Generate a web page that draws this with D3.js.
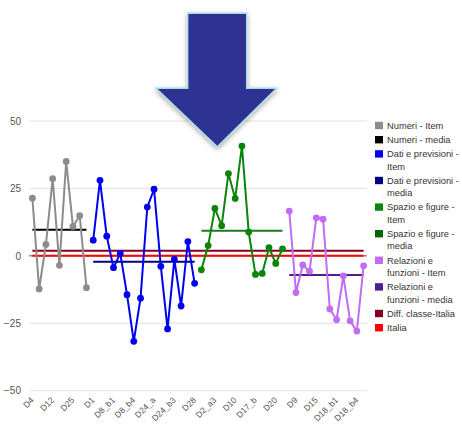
<!DOCTYPE html>
<html>
<head>
<meta charset="utf-8">
<script src="https://cdn.jsdelivr.net/npm/d3@7"></script>
<style>
  body { margin: 0; background: #fff; }
  svg { display: block; font-family: 'Liberation Sans', Arial, sans-serif; }
</style>
</head>
<body>
<svg id="chart"></svg>
<script>
// categorie (una ogni tre viene mostrata sull'asse)
const categories = [
  'D4', 'D5', 'D7_a', 'D12', 'D13', 'D19', 'D25', 'D26_a', 'D26_b',
  'D1', 'D3_a', 'D3_b', 'D8_b1', 'D8_b2', 'D8_b3', 'D8_b4', 'D11', 'D16',
  'D24_a', 'D24_b1', 'D24_b2', 'D24_b3', 'D27_a', 'D27_b', 'D28',
  'D2_a1', 'D2_a2', 'D2_a3', 'D2_b', 'D6', 'D10', 'D23', 'D17_a', 'D17_b',
  'D19_a', 'D19_b', 'D20', 'D22',
  'D7_b', 'D9', 'D13_b', 'D14_b', 'D15', 'D16_b', 'D18_a', 'D18_b1',
  'D18_b2', 'D18_b3', 'D18_b4', 'D29'
]
const yTicks = [50, 25, 0, -25, -50]

const numeriItem = [21.4, -12.3, 4.2, 28.6, -3.5, 35, 10.9, 14.9, -11.8]
const numeriMedia = 9.7
const datiItem = [5.8, 28, 7.3, -4.4, 0.9, -14.4, -31.7, -15.7, 18.1, 24.7, -3.9, -27.1, -1.3, -18.6, 5.3, -10.2]
const datiMedia = -2.2
const spazioItem = [-5.2, 3.8, 17.6, 11.2, 30.5, 21.3, 40.7, 8.8, -6.9, -6.5, 3.0, -2.8, 2.6]
const spazioMedia = 9.3
const relazioniItem = [16.6, -13.6, -3.4, -5.7, 14.1, 13.6, -19.7, -23.7, -7.4, -24.1, -27.9, -3.7]
const relazioniMedia = -7.1
const diffClasseItalia = 1.9
const italia = 0

const legendLabels = [
  ['Numeri - Item'],
  ['Numeri - media'],
  ['Dati e previsioni -', 'Item'],
  ['Dati e previsioni -', 'media'],
  ['Spazio e figure -', 'Item'],
  ['Spazio e figure -', 'media'],
  ['Relazioni e', 'funzioni - Item'],
  ['Relazioni e', 'funzioni - media'],
  ['Diff. classe-Italia'],
  ['Italia']
]
const legendColors = ['#8c8c8c', '#000000', '#0000ee', '#000080', '#0a840a',
  '#006400', '#c06cf4', '#4c1d8c', '#800020', '#ff0000']

const width = 462
const height = 430
const margin = {top: 121, right: 95, bottom: 39.3, left: 29}

const svg = d3.select('#chart')
  .attr('width', width)
  .attr('height', height)

const x = d3.scaleBand()
  .domain(categories)
  .range([margin.left, width - margin.right])
const y = d3.scaleLinear()
  .domain([-50, 50])
  .range([height - margin.bottom, margin.top])
const cx = c => x(c) + x.bandwidth() / 2

// griglia
svg.append('g').selectAll('line').data(yTicks)
  .enter().append('line')
    .attr('x1', margin.left)
    .attr('x2', width - margin.right)
    .attr('y1', d => y(d))
    .attr('y2', d => y(d))
    .attr('stroke', d => d === 0 ? '#b03030' : '#e2e2e2')
    .attr('stroke-width', 1)

// asse y
const yAxis = svg.append('g')
  .attr('transform', `translate(${margin.left - 8},0)`)
  .call(d3.axisLeft(y).tickValues(yTicks).tickSize(0).tickPadding(0))
yAxis.select('.domain').remove()
yAxis.selectAll('text')
  .attr('fill', '#555')
  .attr('font-size', 10)
  .attr('font-family', 'Liberation Sans, Arial, sans-serif')

// asse x
const xAxis = svg.append('g')
  .attr('transform', `translate(0,${height - margin.bottom})`)
  .call(d3.axisBottom(x)
    .tickValues(categories.filter((d, i) => i % 3 === 0))
    .tickSize(0).tickPadding(0))
xAxis.select('.domain').remove()
xAxis.selectAll('text')
  .attr('fill', '#555')
  .attr('font-size', 8.5)
  .attr('font-family', 'Liberation Sans, Arial, sans-serif')
  .attr('text-anchor', 'end')
  .attr('dy', null)
  .attr('transform', 'translate(2,10) rotate(-45)')

// linee orizzontali di riferimento
const hline = (c0, c1, v, color) => {
  svg.append('line')
    .attr('x1', cx(c0))
    .attr('x2', cx(c1))
    .attr('y1', y(v))
    .attr('y2', y(v))
    .attr('stroke', color)
    .attr('stroke-width', 2)
}
hline(categories[0], categories[categories.length - 1], diffClasseItalia, '#800020')
hline(categories[0], categories[categories.length - 1], italia, '#ff0000')

const groups = [
  {values: numeriItem, media: numeriMedia, color: '#8c8c8c', mediaColor: '#000000'},
  {values: datiItem, media: datiMedia, color: '#0000ee', mediaColor: '#000080'},
  {values: spazioItem, media: spazioMedia, color: '#0a840a', mediaColor: '#1d7a1d'},
  {values: relazioniItem, media: relazioniMedia, color: '#c06cf4', mediaColor: '#4c1d8c'}
]

let offset = 0
groups.forEach(gr => {
  const cats = categories.slice(offset, offset + gr.values.length)
  offset += gr.values.length
  const pts = gr.values.map((v, i) => ({c: cats[i], v: v}))
  hline(cats[0], cats[cats.length - 1], gr.media, gr.mediaColor)
  svg.append('path')
    .datum(pts)
    .attr('fill', 'none')
    .attr('stroke', gr.color)
    .attr('stroke-width', 2)
    .attr('stroke-linejoin', 'round')
    .attr('d', d3.line().x(d => cx(d.c)).y(d => y(d.v)))
  svg.append('g').selectAll('circle').data(pts)
    .enter().append('circle')
      .attr('cx', d => cx(d.c))
      .attr('cy', d => y(d.v))
      .attr('r', 3.4)
      .attr('fill', gr.color)
})

// legenda
const lineH = 12.4
const gap = 1.8
let ly = 125.5
const legend = svg.append('g')
legendLabels.forEach((lines, i) => {
  legend.append('rect')
    .attr('x', 375)
    .attr('y', ly - 3.7)
    .attr('width', 8)
    .attr('height', 7.4)
    .attr('fill', legendColors[i])
  lines.forEach((t, j) => {
    legend.append('text')
      .attr('x', 387)
      .attr('y', ly + j * lineH)
      .attr('dy', '0.35em')
      .attr('font-size', 9.3)
      .attr('fill', '#333')
      .text(t)
  })
  ly += lines.length * lineH + gap
})

// freccia
const defs = svg.append('defs')
defs.append('filter')
  .attr('id', 'shadow')
  .attr('x', '-20%').attr('y', '-20%')
  .attr('width', '140%').attr('height', '140%')
  .append('feDropShadow')
    .attr('dx', 0)
    .attr('dy', 2)
    .attr('stdDeviation', 2.5)
    .attr('flood-color', '#000')
    .attr('flood-opacity', 0.35)
const arrow = [[187.7, 13.3], [246.7, 13.3], [246.7, 88.3], [276.7, 88.3],
  [217.3, 146.7], [156, 88.3], [187.7, 88.3]]
svg.append('polygon')
  .attr('points', arrow.map(p => p.join(',')).join(' '))
  .attr('fill', '#2e3192')
  .attr('stroke', '#a9dbe3')
  .attr('stroke-width', 1.5)
  .attr('filter', 'url(#shadow)')
</script>
</body>
</html>
